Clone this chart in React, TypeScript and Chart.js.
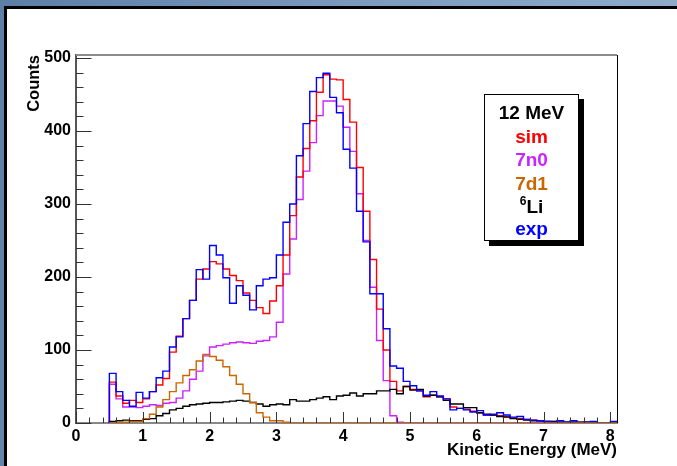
import React, { useEffect, useRef } from "react";
import { Chart, registerables } from "chart.js";

Chart.register(...registerables);

const FONT = "'Liberation Sans', Arial, Helvetica, sans-serif";

// Histogram binning (MeV)
const BIN_START = 0.5;
const BIN_WIDTH = 0.1;
const X_MIN = 0;
const X_MAX = 8.1;
const Y_MIN = 0;
const Y_MAX = 504;
const X_TICKS = [0, 1, 2, 3, 4, 5, 6, 7, 8];
const Y_TICKS = [0, 100, 200, 300, 400, 500];
const X_MINOR_STEP = 0.2;
const Y_MINOR_STEP = 20;

// Counts per 0.1 MeV bin, starting at 0.5 MeV
const simCounts = [
  56, 37, 27, 31, 28, 33, 43, 52, 61, 97,
  119, 143, 168, 197, 211, 221, 218, 211, 202, 195,
  178, 168, 158, 150, 167, 188, 230, 284, 337, 376,
  414, 453, 477, 471, 470, 443, 412, 350, 290, 224,
  156, 100, 57, 44, 50, 46, 44, 36, 38, 36,
  33, 22, 20, 19, 16, 14, 11, 11, 10, 9,
  7, 6, 5, 4, 3, 2, 2, 1, 1, 1,
  1, 1, 0, 0, 0, 0,
];
const n0Counts = [
  53, 33, 22, 22, 21, 23, 25, 24, 27, 28,
  34, 44, 60, 71, 92, 104, 106, 108, 110, 111,
  110, 109, 112, 113, 118, 138, 204, 252, 306, 345,
  384, 421, 441, 441, 434, 405, 372, 314, 250, 186,
  113, 58, 10, 1, 0, 0, 0, 0, 0, 0,
  0, 0, 0, 0, 0, 0, 0, 0, 0, 0,
  0, 0, 0, 0, 0, 0, 0, 0, 0, 0,
  0, 0, 0, 0, 0, 0,
];
const d1Counts = [
  0, 1, 1, 2, 2, 6, 12, 22, 32, 43,
  55, 65, 73, 85, 94, 91, 86, 77, 65, 53,
  40, 28, 14, 8, 3, 3, 1, 0, 0, 0,
  0, 0, 0, 0, 0, 0, 0, 0, 0, 0,
  0, 0, 0, 0, 0, 0, 0, 0, 0, 0,
  0, 0, 0, 0, 0, 0, 0, 0, 0, 0,
  0, 0, 0, 0, 0, 0, 0, 0, 0, 0,
  0, 0, 0, 0, 0, 0,
];
const li6Counts = [
  2, 3, 4, 3, 3, 5, 6, 10, 13, 18,
  20, 23, 25, 26, 27, 28, 28, 29, 30, 31,
  30, 28, 26, 23, 25, 26, 25, 32, 30, 30,
  32, 34, 36, 32, 37, 38, 41, 37, 40, 40,
  44, 44, 46, 40, 50, 45, 46, 37, 38, 36,
  31, 26, 26, 21, 21, 14, 12, 11, 9, 8,
  6, 5, 4, 3, 3, 2, 2, 1, 1, 1,
  1, 1, 1, 0, 0, 0,
];
const expCounts = [
  68, 43, 31, 23, 42, 34, 43, 62, 71, 104,
  118, 143, 168, 210, 197, 243, 230, 199, 164, 188,
  175, 155, 188, 197, 199, 230, 275, 300, 366, 410,
  454, 473, 479, 446, 425, 375, 349, 290, 248, 177,
  177, 129, 78, 75, 57, 51, 44, 38, 43, 37,
  33, 18, 20, 18, 15, 17, 11, 12, 14, 11,
  8, 9, 5, 4, 3, 2, 1, 3, 1, 3,
  0, 1, 2, 0, 0, 2,
];

const SERIES = [
  { name: "7d1", values: d1Counts, color: "#cc6600", order: 0 },
  { name: "exp", values: expCounts, color: "#0000ff", order: 1 },
  { name: "6Li", values: li6Counts, color: "#000000", order: 2 },
  { name: "sim", values: simCounts, color: "#ff0000", order: 3 },
  { name: "7n0", values: n0Counts, color: "#cc22ff", order: 4 },
];

function histPoints(values: number[]) {
  const pts: { x: number; y: number }[] = [{ x: BIN_START, y: 0 }];
  values.forEach((v, i) => {
    pts.push({ x: Math.round((BIN_START + i * BIN_WIDTH) * 100) / 100, y: v });
  });
  pts.push({
    x: Math.round((BIN_START + values.length * BIN_WIDTH) * 100) / 100,
    y: values[values.length - 1],
  });
  return pts;
}

const framePlugin = {
  id: "rootFrame",
  afterDatasetsDraw(chart: any) {
    const { ctx, chartArea } = chart;
    const xs = chart.scales.x;
    const ys = chart.scales.y;
    ctx.save();
    // top and right frame edges
    ctx.strokeStyle = "#8c8c8c";
    ctx.lineWidth = 2;
    ctx.beginPath();
    ctx.moveTo(chartArea.left, chartArea.top);
    ctx.lineTo(chartArea.right, chartArea.top);
    ctx.stroke();
    ctx.strokeStyle = "#000";
    ctx.lineWidth = 1;
    ctx.beginPath();
    ctx.moveTo(Math.round(chartArea.right) + 0.5, chartArea.top);
    ctx.lineTo(Math.round(chartArea.right) + 0.5, chartArea.bottom);
    ctx.stroke();
    // inner ticks
    ctx.strokeStyle = "#333";
    ctx.lineWidth = 1;
    ctx.beginPath();
    for (let v = X_MIN; v <= X_MAX + 1e-9; v = Math.round((v + X_MINOR_STEP) * 10) / 10) {
      const isMajor = X_TICKS.includes(v);
      const px = Math.round(xs.getPixelForValue(v)) + 0.5;
      ctx.moveTo(px, chartArea.bottom);
      ctx.lineTo(px, chartArea.bottom - (isMajor ? 11 : 5.5));
    }
    for (let v = Y_MIN; v <= Y_MAX; v += Y_MINOR_STEP) {
      const isMajor = Y_TICKS.includes(v);
      const py = Math.round(ys.getPixelForValue(v)) + 0.5;
      ctx.moveTo(chartArea.left, py);
      ctx.lineTo(chartArea.left + (isMajor ? 15.5 : 7.5), py);
    }
    ctx.stroke();
    ctx.restore();
  },
};

function Legend() {
  const lines: { text: React.ReactNode; color: string; top: number }[] = [
    { text: "12 MeV", color: "#000", top: 113 },
    { text: "sim", color: "#ff0000", top: 136.5 },
    { text: "7n0", color: "#cc22ff", top: 160 },
    { text: "7d1", color: "#cc6600", top: 184 },
    {
      text: (
        <span>
          <span style={{ fontSize: 12, position: "relative", top: -8 }}>6</span>Li
        </span>
      ),
      color: "#000",
      top: 207,
    },
    { text: "exp", color: "#0000ff", top: 229 },
  ];
  return (
    <div
      style={{
        position: "absolute",
        left: 484,
        top: 94,
        width: 93,
        height: 145,
        background: "#fff",
        border: "1px solid #000",
        boxShadow: "5px 5px 0 #000",
      }}
    >
      {lines.map((l, i) => (
        <div
          key={i}
          style={{
            position: "absolute",
            left: 0,
            width: 93,
            top: l.top - 95 - 12,
            height: 24,
            lineHeight: "24px",
            textAlign: "center",
            fontFamily: FONT,
            fontWeight: "bold",
            fontSize: 19,
            color: l.color,
            whiteSpace: "nowrap",
          }}
        >
          {l.text}
        </div>
      ))}
    </div>
  );
}

export default function App() {
  const canvasRef = useRef<HTMLCanvasElement | null>(null);

  useEffect(() => {
    const canvas = canvasRef.current;
    if (!canvas) return;
    const chart = new Chart(canvas, {
      type: "line",
      data: {
        datasets: SERIES.map((s) => ({
          label: s.name,
          data: histPoints(s.values),
          borderColor: s.color,
          backgroundColor: s.color,
          borderWidth: 1.4,
          pointRadius: 0,
          stepped: "before" as const,
          fill: false,
          tension: 0,
          order: s.order,
        })),
      },
      options: {
        responsive: false,
        animation: false,
        events: [],
        layout: { padding: { left: 0, top: 55, right: 60, bottom: 0 } },
        plugins: {
          legend: { display: false },
          tooltip: { enabled: false },
          title: { display: false },
        },
        scales: {
          x: {
            type: "linear",
            min: X_MIN,
            max: X_MAX,
            afterFit: (s: any) => {
              s.height = 43;
            },
            afterBuildTicks: (s: any) => {
              s.ticks = X_TICKS.map((v) => ({ value: v }));
            },
            grid: { display: false, drawTicks: false },
            border: { display: true, color: "#888", width: 2 },
            ticks: {
              autoSkip: false,
              maxRotation: 0,
              padding: 4,
              color: "#000",
              font: { family: FONT, size: 16, weight: "bold" },
              callback: (v: any) => String(v),
            },
            title: {
              display: true,
              text: "Kinetic Energy (MeV)",
              align: "end",
              color: "#000",
              font: { family: FONT, size: 17, weight: "bold" },
              padding: { top: 0, bottom: 5 },
            },
          },
          y: {
            type: "linear",
            min: Y_MIN,
            max: Y_MAX,
            afterFit: (s: any) => {
              s.width = 76;
            },
            afterBuildTicks: (s: any) => {
              s.ticks = Y_TICKS.map((v) => ({ value: v }));
            },
            grid: { display: false, drawTicks: false },
            border: { display: true, color: "#555", width: 2 },
            ticks: {
              autoSkip: false,
              padding: 5,
              color: "#000",
              font: { family: FONT, size: 16, weight: "bold" },
              callback: (v: any) => String(v),
            },
            title: {
              display: true,
              text: "Counts",
              align: "end",
              color: "#000",
              font: { family: FONT, size: 16.5, weight: "bold" },
              padding: { top: 25, bottom: 0 },
            },
          },
        },
      } as any,
      plugins: [framePlugin],
    });
    return () => chart.destroy();
  }, []);

  return (
    <div
      style={{
        position: "fixed",
        left: 0,
        top: 0,
        width: 677,
        height: 466,
        overflow: "hidden",
        background: "linear-gradient(100deg, #5d7ea6 0%, #7c9cc0 50%, #93b0cc 100%)",
      }}
    >
      <div
        style={{
          position: "absolute",
          left: 4,
          top: 6,
          right: 0,
          bottom: 0,
          background: "#fff",
          borderLeft: "3px solid #000",
          borderTop: "3px solid #000",
        }}
      />
      <canvas
        ref={canvasRef}
        width={677}
        height={466}
        style={{ position: "absolute", left: 0, top: 0, width: 677, height: 466 }}
      />
      <Legend />
    </div>
  );
}
